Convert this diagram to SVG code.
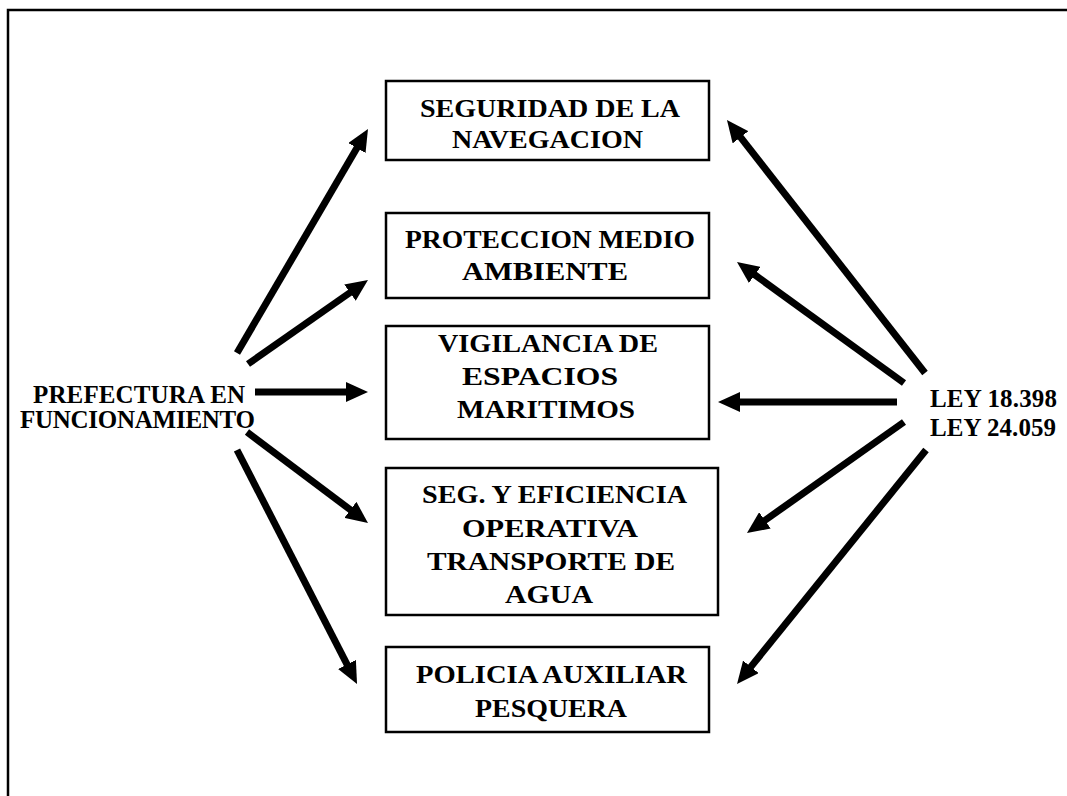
<svg xmlns="http://www.w3.org/2000/svg" width="1067" height="796" viewBox="0 0 1067 796">
<style>
.frame{fill:none;stroke:#000;stroke-width:2.5}
.box{fill:#fff;stroke:#000;stroke-width:2.5}
.t{font-family:"Liberation Serif","Times New Roman",serif;font-weight:bold;font-size:25px;fill:#000}
.b{font-size:26px}
.c{text-anchor:middle}
.arr{stroke:#000;stroke-width:7;fill:none;marker-end:url(#head)}
</style>
<defs>
<marker id="head" markerUnits="userSpaceOnUse" markerWidth="22" markerHeight="20" viewBox="0 0 22 20" refX="2" refY="10" orient="auto">
<path d="M0,0 L22,10 L0,20 z" fill="#000"/>
</marker>
</defs>
<rect width="1067" height="796" fill="#fff"/>
<rect class="frame" x="8" y="10" width="1100" height="830"/>

<g id="prefectura">
<text class="t c" x="139" y="403" textLength="212">PREFECTURA EN</text>
<text class="t c" x="137.5" y="428" textLength="235">FUNCIONAMIENTO</text>
</g>

<g id="ley">
<text class="t" x="930" y="407" textLength="127">LEY 18.398</text>
<text class="t" x="930" y="436" textLength="126">LEY 24.059</text>
</g>

<g id="seguridad">
<rect class="box" x="386" y="81" width="323" height="79"/>
<text class="t b c" x="550" y="117" textLength="260" lengthAdjust="spacingAndGlyphs">SEGURIDAD DE LA</text>
<text class="t b c" x="547.5" y="148" textLength="191" lengthAdjust="spacingAndGlyphs">NAVEGACION</text>
</g>

<g id="proteccion">
<rect class="box" x="386" y="213" width="323" height="85"/>
<text class="t b c" x="550" y="248" textLength="290" lengthAdjust="spacingAndGlyphs">PROTECCION MEDIO</text>
<text class="t b c" x="545" y="280" textLength="166" lengthAdjust="spacingAndGlyphs">AMBIENTE</text>
</g>

<g id="vigilancia">
<rect class="box" x="386" y="326" width="323" height="113"/>
<text class="t b c" x="548" y="352" textLength="220" lengthAdjust="spacingAndGlyphs">VIGILANCIA DE</text>
<text class="t b c" x="540" y="385" textLength="156" lengthAdjust="spacingAndGlyphs">ESPACIOS</text>
<text class="t b c" x="546" y="418" textLength="178" lengthAdjust="spacingAndGlyphs">MARITIMOS</text>
</g>

<g id="eficiencia">
<rect class="box" x="386" y="468" width="332" height="147"/>
<text class="t b c" x="554.5" y="503" textLength="265" lengthAdjust="spacingAndGlyphs">SEG. Y EFICIENCIA</text>
<text class="t b c" x="550" y="537" textLength="176" lengthAdjust="spacingAndGlyphs">OPERATIVA</text>
<text class="t b c" x="551" y="570" textLength="248" lengthAdjust="spacingAndGlyphs">TRANSPORTE DE</text>
<text class="t b c" x="549" y="603" textLength="88" lengthAdjust="spacingAndGlyphs">AGUA</text>
</g>

<g id="policia">
<rect class="box" x="386" y="647" width="323" height="85"/>
<text class="t b c" x="551.5" y="683" textLength="271" lengthAdjust="spacingAndGlyphs">POLICIA AUXILIAR</text>
<text class="t b c" x="551" y="717" textLength="152" lengthAdjust="spacingAndGlyphs">PESQUERA</text>
</g>

<g id="connectors">
<line class="arr" x1="237" y1="353" x2="357.9" y2="146.3"/>
<line class="arr" x1="248" y1="364" x2="351.6" y2="291.5"/>
<line class="arr" x1="255" y1="392" x2="348" y2="392"/>
<line class="arr" x1="247" y1="432" x2="352" y2="511"/>
<line class="arr" x1="237" y1="450" x2="347.9" y2="666.2"/>
<line class="arr" x1="925" y1="373" x2="739.3" y2="135.7"/>
<line class="arr" x1="904" y1="383" x2="753.2" y2="273.7"/>
<line class="arr" x1="897" y1="402" x2="738" y2="402"/>
<line class="arr" x1="904" y1="422" x2="763.3" y2="521.5"/>
<line class="arr" x1="926" y1="450" x2="749.6" y2="668.4"/>
</g>
</svg>
